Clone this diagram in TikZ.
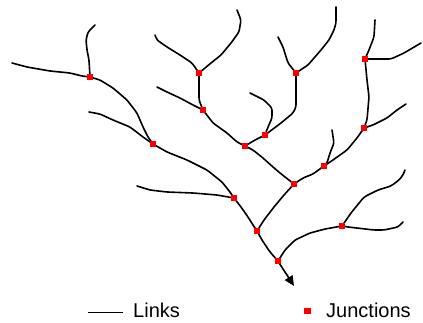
\documentclass[tikz,border=0pt]{standalone}
\usepackage{fontspec}
\setmainfont{Liberation Sans}
\usetikzlibrary{arrows.meta,backgrounds}
\begin{document}
\begin{tikzpicture}[x=1pt,y=-1pt,
  junction/.style={fill=red,draw=none,minimum size=6pt,inner sep=0pt,rectangle},
  link/.style={draw=black,line width=1.6pt,rounded corners=2.5pt,line join=round,line cap=round},
  legendtext/.style={font=\fontsize{20}{24}\selectfont,inner sep=0pt,anchor=base west}]
\useasboundingbox (0,0) rectangle (423,322);
% junctions
\node[junction] (J1) at (90,77) {};
\node[junction] (J2) at (153,144) {};
\node[junction] (J3) at (199,73) {};
\node[junction] (J4) at (203,110) {};
\node[junction] (J5) at (296,73) {};
\node[junction] (J6) at (265,135) {};
\node[junction] (J7) at (245,146) {};
\node[junction] (J8) at (365,59) {};
\node[junction] (J9) at (364,128) {};
\node[junction] (J10) at (324,166) {};
\node[junction] (J11) at (294,184) {};
\node[junction] (J12) at (234,198) {};
\node[junction] (J13) at (257,231) {};
\node[junction] (J14) at (342,226) {};
\node[junction] (J15) at (278,261) {};
% free ends
\coordinate (e1) at (12,63);
\coordinate (e2) at (95,25);
\coordinate (e3) at (89,112);
\coordinate (e4) at (137,186);
\coordinate (e5) at (155,35);
\coordinate (e6) at (237,10);
\coordinate (e7) at (157,87);
\coordinate (e8) at (278,37);
\coordinate (e9) at (336,7);
\coordinate (e10) at (250,93);
\coordinate (e11) at (375,20);
\coordinate (e12) at (421,43);
\coordinate (e13) at (406,104);
\coordinate (e14) at (332,130);
\coordinate (e15) at (405,170);
\coordinate (e16) at (403,222);
\coordinate (out) at (294,286);
\begin{scope}[on background layer]
\draw[link] (e1) -- (27,67) -- (50,71) -- (70,73) -- (82,76) -- (J1.center);
\draw[link] (e2) -- (88,32) -- (86,40) -- (87,50) -- (89,60) -- (J1.center);
\draw[link] (J1.center) -- (100,80) -- (113,88) -- (127,100) -- (137,113) -- (143,127) -- (148,137) -- (J2.center);
\draw[link] (e3) -- (100,114) -- (113,120) -- (130,127) -- (143,137) -- (J2.center);
\draw[link] (J2.center) -- (167,152) -- (187,160) -- (207,170) -- (222,182) -- (230,192) -- (J12.center);
\draw[link] (e4) -- (150,190) -- (167,192) -- (193,193) -- (217,195) -- (J12.center);
\draw[link] (J12.center) -- (241,207) -- (248,217) -- (253,225) -- (J13.center);
\draw[link] (J13.center) -- (262,240) -- (270,252) -- (J15.center);
\draw[link] (e5) -- (157,40) -- (167,47) -- (180,55) -- (192,63) -- (J3.center);
\draw[link] (e6) -- (241,20) -- (239,32) -- (231,43) -- (221,55) -- (211,63) -- (J3.center);
\draw[link] (J3.center) -- (199,100) -- (J4.center);
\draw[link] (e7) -- (167,92) -- (180,98) -- (193,105) -- (J4.center);
\draw[link] (J4.center) -- (213,123) -- (227,133) -- (237,142) -- (J7.center);
\draw[link] (e8) -- (283,47) -- (288,63) -- (J5.center);
\draw[link] (e9) -- (336,23) -- (334,30) -- (329,40) -- (321,50) -- (308,65) -- (J5.center);
\draw[link] (J5.center) -- (296,107) -- (293,113) -- (281,123) -- (J6.center);
\draw[link] (e10) -- (264,100) -- (272,108) -- (272,118) -- (268,127) -- (J6.center);
\draw[link] (J6.center) -- (255,140) -- (J7.center);
\draw[link] (J7.center) -- (253,150) -- (263,158) -- (273,167) -- (280,173) -- (J11.center);
\draw[link] (e11) -- (374,37) -- (369,50) -- (J8.center);
\draw[link] (e12) -- (404,53) -- (391,59) -- (J8.center);
\draw[link] (J8.center) -- (367,80) -- (369,97) -- (367,120) -- (J9.center);
\draw[link] (e13) -- (397,110) -- (387,118) -- (373,125) -- (J9.center);
\draw[link] (J9.center) -- (357,138) -- (347,150) -- (333,160) -- (J10.center);
\draw[link] (e14) -- (334,143) -- (330,153) -- (327,163) -- (J10.center);
\draw[link] (J10.center) -- (313,174) -- (303,178) -- (J11.center);
\draw[link] (J11.center) -- (284,195) -- (274,207) -- (264,220) -- (J13.center);
\draw[link] (e15) -- (403,175) -- (399,180) -- (391,186) -- (378,190) -- (364,197) -- (351,213) -- (J14.center);
\draw[link] (e16) -- (398,227) -- (384,230) -- (374,230) -- (348,227) -- (J14.center);
\draw[link] (J14.center) -- (325,229) -- (310,233) -- (295,240) -- (285,250) -- (J15.center);
\draw[link,-{Triangle[length=10pt,width=9pt]}] (J15.center) -- (283,269) -- (287,275) -- (out);
\end{scope}
% legend
\coordinate (la) at (88,312.5);
\coordinate (lb) at (123,312.5);
\draw[line width=1.6pt] (la) -- (lb);
\node[legendtext] (links) at (133,317.5) {Links};
\node[junction,minimum size=6.5pt] (lj) at (307.7,311) {};
\node[legendtext] (junctions) at (326,317.5) {Junctions};
\end{tikzpicture}
\end{document}
